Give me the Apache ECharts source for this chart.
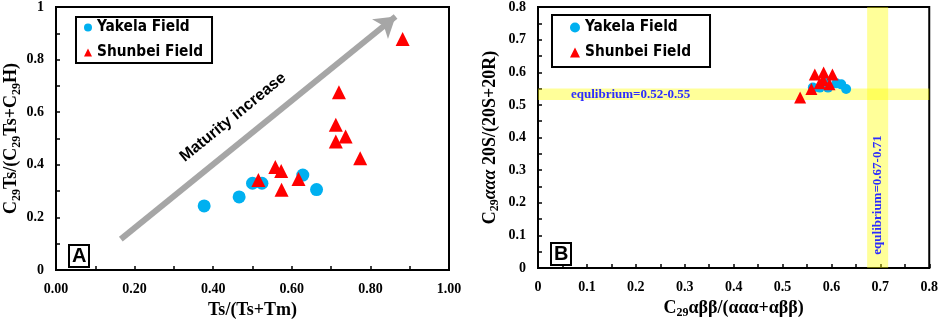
<!DOCTYPE html>
<html><head><meta charset="utf-8">
<script src="https://cdn.jsdelivr.net/npm/echarts@6/dist/echarts.min.js"></script>
<style>html,body{margin:0;padding:0;background:#fff}#c{width:941px;height:324px}</style>
</head><body><div id="c"></div>
<script>
// Panel A data
const yakelaA_x = [0.377, 0.466, 0.500, 0.524, 0.628, 0.663];
const yakelaA_y = [0.244, 0.278, 0.330, 0.330, 0.361, 0.306];
const shunbeiA_x = [0.515, 0.558, 0.573, 0.574, 0.617, 0.712, 0.720, 0.712, 0.737, 0.774, 0.882];
const shunbeiA_y = [0.342, 0.392, 0.377, 0.305, 0.346, 0.552, 0.676, 0.489, 0.508, 0.425, 0.878];
const arrowA = [[0.165, 0.118], [0.864, 0.964]];
// Panel B data
const yakelaB_x = [0.562, 0.576, 0.593, 0.610, 0.620, 0.630, 0.589];
const yakelaB_y = [0.553, 0.553, 0.553, 0.566, 0.563, 0.549, 0.573];
const shunbeiB_x = [0.566, 0.584, 0.602, 0.576, 0.596, 0.559, 0.536, 0.583];
const shunbeiB_y = [0.593, 0.599, 0.593, 0.566, 0.563, 0.549, 0.523, 0.576];
const bandH = [0.515, 0.55];
const bandV = [0.673, 0.716];

const zip = (a, b) => a.map((v, i) => [v, b[i]]);
const serif = "'Liberation Serif','Times New Roman',serif";
const sans = "'Liberation Sans',Arial,sans-serif";
const legendFont = "'DejaVu Sans Condensed','DejaVu Sans',sans-serif";
const BLUE = '#00b0f0', RED = '#ff0000';

const richName = {
  m: {fontFamily: serif, fontWeight: 'bold', fontSize: 18, lineHeight: 22, color: '#000'},
  i: {fontFamily: serif, fontWeight: 'bold', fontStyle: 'italic', fontSize: 18, lineHeight: 22, color: '#000'},
  s: {fontFamily: serif, fontWeight: 'bold', fontSize: 12, lineHeight: 12, verticalAlign: 'bottom', color: '#000'}
};

function axis(gi, max, interval, fmt, name, gap, isY) {
  return {
    type: 'value', gridIndex: gi, min: 0, max: max, interval: interval,
    axisLine: {show: true, onZero: false, lineStyle: {color: '#000', width: 2}},
    axisTick: {show: true, inside: true, length: 4, lineStyle: {color: '#000', width: 1.5}},
    minorTick: {show: true, splitNumber: 2, length: 4, lineStyle: {color: '#000', width: 1.5}},
    splitLine: {show: false},
    axisLabel: {fontFamily: serif, fontWeight: 'bold', fontSize: 14, color: '#000', margin: 12,
      formatter: fmt},
    name: name, nameLocation: 'middle', nameGap: gap, nameRotate: isY ? 90 : 0,
    nameTextStyle: {rich: richName}
  };
}

const legendText = {fontFamily: legendFont, fontWeight: 'bold', fontSize: 15.3, lineHeight: 17, color: '#000'};

const option = {
  animation: false,
  backgroundColor: '#fff',
  grid: [
    {left: 56, top: 7, width: 393, height: 267, show: true, borderColor: '#000', borderWidth: 2},
    {left: 538, top: 7, width: 392, height: 267, show: true, borderColor: '#000', borderWidth: 2}
  ],
  title: [
    {text: 'A', left: 69, top: 245, padding: [1, 3, 1, 3], borderColor: '#000', borderWidth: 2,
      textStyle: {fontFamily: sans, fontWeight: 'bold', fontSize: 20, lineHeight: 20, color: '#000'}},
    {text: 'B', left: 551, top: 243, padding: [1, 3, 1, 3], borderColor: '#000', borderWidth: 2,
      textStyle: {fontFamily: sans, fontWeight: 'bold', fontSize: 20, lineHeight: 20, color: '#000'}}
  ],
  legend: [
    {left: 76, top: 17, orient: 'vertical', borderColor: '#000', borderWidth: 2, borderRadius: 0,
      padding: [2, 9, 2, 8], itemGap: 8, itemWidth: 8, itemHeight: 8,
      data: ['Yakela Field', 'Shunbei Field'], textStyle: legendText},
    {left: 552, top: 15, orient: 'vertical', borderColor: '#000', borderWidth: 2, borderRadius: 0,
      padding: [4, 19, 6, 18], itemGap: 8, itemWidth: 10, itemHeight: 10,
      data: ['Yakela Field', 'Shunbei Field'], textStyle: legendText}
  ],
  xAxis: [
    axis(0, 1, 0.2, v => v.toFixed(2), '{m|Ts/(Ts+Tm)}', 25, false),
    axis(1, 0.8, 0.1, v => String(+v.toFixed(1)), '{m|C}{s|29}{m|αββ/(ααα+αββ)}', 25, false)
  ],
  yAxis: [
    axis(0, 1, 0.2, v => String(+v.toFixed(1)), '{m|C}{s|29}{m|Ts/(C}{s|29}{m|Ts+C}{s|29}{m|H)}', 33, true),
    axis(1, 0.8, 0.1, v => String(+v.toFixed(1)), '{m|C}{s|29}{i|ααα}{m| 20S/(20S+20R)}', 37, true)
  ],
  series: [
    {type: 'scatter', name: 'Yakela Field', xAxisIndex: 0, yAxisIndex: 0, symbol: 'circle', symbolSize: 13,
      itemStyle: {color: BLUE, opacity: 1}, data: zip(yakelaA_x, yakelaA_y), z: 3},
    {type: 'scatter', name: 'Shunbei Field', xAxisIndex: 0, yAxisIndex: 0, symbol: 'triangle', symbolSize: 14,
      itemStyle: {color: RED, opacity: 1}, data: zip(shunbeiA_x, shunbeiA_y), z: 4},
    {type: 'scatter', name: 'arrow', xAxisIndex: 0, yAxisIndex: 0, data: [], z: 2, silent: true,
      markLine: {silent: true, symbol: ['none', 'arrow'], symbolSize: [19, 20], animation: false,
        lineStyle: {color: '#a6a6a6', width: 6, type: 'solid'},
        label: {show: true, position: 'middle', formatter: 'Maturity increase', distance: 16,
          padding: [0, 26, 0, 0],
          fontFamily: sans, fontWeight: 'bold', fontSize: 16, color: '#000'},
        data: [[{coord: arrowA[0]}, {coord: arrowA[1]}]]}},
    {type: 'scatter', name: 'Yakela Field', xAxisIndex: 1, yAxisIndex: 1, symbol: 'circle', symbolSize: 10,
      itemStyle: {color: BLUE, opacity: 1}, data: zip(yakelaB_x, yakelaB_y), z: 3},
    {type: 'scatter', name: 'Shunbei Field', xAxisIndex: 1, yAxisIndex: 1, symbol: 'triangle', symbolSize: 12,
      itemStyle: {color: RED, opacity: 1}, data: zip(shunbeiB_x, shunbeiB_y), z: 4},
    {type: 'scatter', name: 'bands', xAxisIndex: 1, yAxisIndex: 1, data: [], z: 10, silent: true,
      markArea: {silent: true, itemStyle: {color: 'rgba(255,255,0,0.4)'},
        data: [
          [{yAxis: bandH[0], label: {show: true, position: [33, '50%'], verticalAlign: 'middle', align: 'left',
              formatter: 'equlibrium=0.52-0.55', fontFamily: serif, fontWeight: 'bold', fontSize: 13, color: '#2b2bff'}},
           {yAxis: bandH[1]}],
          [{xAxis: bandV[0], label: {show: true, position: ['50%', '72%'], rotate: 90, align: 'center', verticalAlign: 'middle',
              formatter: 'equlibrium=0.67-0.71', fontFamily: serif, fontWeight: 'bold', fontSize: 13, color: '#2b2bff'}},
           {xAxis: bandV[1]}]
        ]}}
  ]
};
const chart = echarts.init(document.getElementById('c'), null, {renderer: 'canvas'});
chart.setOption(option);
</script></body></html>
